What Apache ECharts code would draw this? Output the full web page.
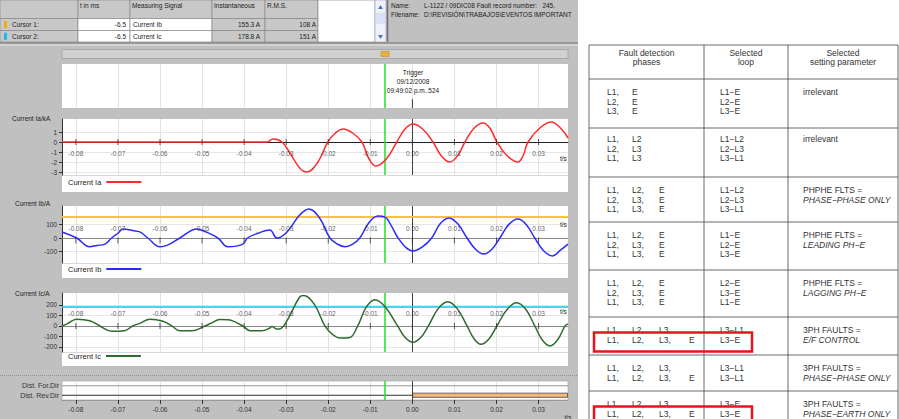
<!DOCTYPE html>
<html><head><meta charset="utf-8">
<script src="https://cdn.jsdelivr.net/npm/echarts@6/dist/echarts.min.js"></script>
<style>html,body{margin:0;padding:0;background:#fff}#c{width:899px;height:419px}</style>
</head><body><div id="c"></div>
<script>
// ---------------- DATA ----------------
const timeTicks = [-0.08,-0.07,-0.06,-0.05,-0.04,-0.03,-0.02,-0.01,0,0.01,0.02,0.03];
const tMin = -0.0833, tMax = 0.037;
const cursorTime = -0.0065;
const triggerTime = 0;
const triggerLines = ['Trigger', '09/12/2008', '09:49:02 p.m..524'];
const iaTicks = [-3,-2,-1,0,1];
const ibTicks = [-100,0,100];
const icTicks = [-200,-100,0,100,200];
const cursor1Value = 155.3;   // Current Ib at cursor 1
const cursor2Value = 178.8;   // Current Ic at cursor 2

const iaPoints = [[-0.0833,0],[-0.0600,0],[-0.0400,0],[-0.0345,0],[-0.0332,0.3],[-0.0310,0],[-0.0291,-1.1],[-0.0268,-2.6],[-0.0251,-3.0],[-0.0226,-2.1],[-0.0201,0],[-0.0183,0.9],[-0.0165,1.3],[-0.0142,0.9],[-0.0120,0],[-0.0103,-1.7],[-0.0087,-2.4],[-0.0062,-1.7],[-0.0037,0],[-0.0018,1.27],[0.0001,1.8],[0.0025,1.27],[0.0049,0],[0.0069,-1.4],[0.0089,-2.0],[0.0107,-1.4],[0.0125,0],[0.0146,1.35],[0.0168,1.9],[0.0185,1.35],[0.0201,0],[0.0226,-1.4],[0.0251,-2.0],[0.0263,-1.4],[0.0275,0],[0.0303,1.4],[0.0330,2.0],[0.0352,1.4],[0.0370,0.4]];
const ibPoints = [[-0.0833,45],[-0.0798,0],[-0.0767,-65],[-0.0750,-55],[-0.0731,-45],[-0.0715,0],[-0.0700,35],[-0.0688,67],[-0.0665,55],[-0.0648,45],[-0.0629,0],[-0.0600,-65],[-0.0577,-45],[-0.0553,0],[-0.0512,67],[-0.0493,48],[-0.0462,0],[-0.0439,-65],[-0.0403,-45],[-0.0392,0],[-0.0367,35],[-0.0339,60],[-0.0322,0],[-0.0298,45],[-0.0268,170],[-0.0246,215],[-0.0221,150],[-0.0196,0],[-0.0178,-45],[-0.0160,-65],[-0.0142,-45],[-0.0125,0],[-0.0103,115],[-0.0082,163],[-0.0065,155],[-0.0050,90],[-0.0034,0],[-0.0016,-68],[0.0001,-96],[0.0023,-68],[0.0046,0],[0.0066,105],[0.0087,148],[0.0108,105],[0.0130,0],[0.0150,-83],[0.0170,-118],[0.0189,-83],[0.0208,0],[0.0229,99],[0.0251,140],[0.0271,99],[0.0291,0],[0.0312,-94],[0.0333,-133],[0.0352,-90],[0.0370,-45]];
const icPoints = [[-0.0833,0],[-0.0821,20],[-0.0798,65],[-0.0767,50],[-0.0743,0],[-0.0715,-50],[-0.0684,-45],[-0.0665,0],[-0.0648,25],[-0.0624,65],[-0.0593,45],[-0.0572,0],[-0.0553,-45],[-0.0524,-45],[-0.0493,0],[-0.0477,30],[-0.0458,62],[-0.0439,60],[-0.0403,0],[-0.0386,-45],[-0.0358,-45],[-0.0339,-20],[-0.0334,-5],[-0.0322,-30],[-0.0313,-25],[-0.0298,50],[-0.0268,276],[-0.0258,290],[-0.0233,205],[-0.0208,0],[-0.0190,-80],[-0.0172,-115],[-0.0149,-110],[-0.0130,0],[-0.0110,177],[-0.0089,250],[-0.0064,179],[-0.0035,0],[-0.0017,-110],[0.0001,-155],[0.0020,-110],[0.0038,0],[0.0061,163],[0.0084,230],[0.0107,163],[0.0130,0],[0.0147,-124],[0.0163,-175],[0.0182,-124],[0.0201,0],[0.0225,156],[0.0248,220],[0.0270,156],[0.0291,0],[0.0309,-134],[0.0327,-190],[0.0345,-134],[0.0363,0],[0.0370,20]];

const distSignals = ['Dist. Rev.Dir', 'Dist. For.Dir'];
const revDirPickupEnd = 0.037;

const cursorHeader = ['', 't in ms', 'Measuring Signal', 'Instantaneous', 'R.M.S.'];
const cursorRows = [
  ['Cursor 1:', '-6.5', 'Current Ib', '155.3 A', '108 A'],
  ['Cursor 2:', '-6.5', 'Current Ic', '178.8 A', '151 A']
];
const recordInfo = [['Name:', 'L-1122 / 09DIC08 Fault record number:   245.'], ['Filename:', 'D:\\REVISIÓN\\TRABAJOS\\EVENTOS IMPORTANT']];

const tableHeader = [['Fault detection','phases'],['Selected','loop'],['Selected','setting parameter']];
const tablePhases = [
  [['L1,','E'],['L2,','E'],['L3,','E']],
  [['L1,','L2'],['L2,','L3'],['L1,','L3']],
  [['L1,','L2,','E'],['L2,','L3,','E'],['L1,','L3,','E']],
  [['L1,','L2,','E'],['L2,','L3,','E'],['L1,','L3,','E']],
  [['L1,','L2,','E'],['L2,','L3,','E'],['L1,','L3,','E']],
  [['L1,','L2,','L3,'],['L1,','L2,','L3,','E']],
  [['L1,','L2,','L3,'],['L1,','L2,','L3,','E']],
  [['L1,','L2,','L3,'],['L1,','L2,','L3,','E']]
];
const tableLoops = [
  ['L1\u2212E','L2\u2212E','L3\u2212E'],
  ['L1\u2212L2','L2\u2212L3','L3\u2212L1'],
  ['L1\u2212L2','L2\u2212L3','L3\u2212L1'],
  ['L1\u2212E','L2\u2212E','L3\u2212E'],
  ['L2\u2212E','L3\u2212E','L1\u2212E'],
  ['L3\u2212L1','L3\u2212E'],
  ['L3\u2212L1','L3\u2212L1'],
  ['L3\u2212E','L3\u2212E']
];
const tableParams = [
  ['irrelevant'],['irrelevant'],
  ['PHPHE FLTS =','PHASE\u2212PHASE ONLY'],
  ['PHPHE FLTS =','LEADING PH\u2212E'],
  ['PHPHE FLTS =','LAGGING PH\u2212E'],
  ['3PH FAULTS =','E/F CONTROL'],
  ['3PH FAULTS =','PHASE\u2212PHASE ONLY'],
  ['3PH FAULTS =','PHASE\u2212EARTH ONLY']
];
const highlighted = [[5,1],[7,1]];

// ---------------- DRAWING ----------------
const FONT = '"Liberation Sans", Arial, sans-serif';
const G = [];
function rect(x,y,w,h,fill,stroke,lw,z){G.push({type:'rect',silent:true,z:z==null?-5:z,shape:{x,y,width:w,height:h},style:{fill:fill||'none',stroke:stroke||null,lineWidth:lw||0}});}
function line(x1,y1,x2,y2,stroke,lw,z,dash){G.push({type:'line',silent:true,z:z==null?-4:z,shape:{x1,y1,x2,y2},style:{stroke,lineWidth:lw||1,lineDash:dash||null}});}
function text(x,y,s,size,opts){opts=opts||{};G.push({type:'text',silent:true,z:20,x,y,style:{text:s,fill:opts.color||'#222',font:(opts.italic?'italic ':'')+size+'px '+FONT,align:opts.align||'left',verticalAlign:'middle'}});}
function poly(pts,fill){G.push({type:'polygon',silent:true,z:-3,shape:{points:pts},style:{fill}});}

// left gray background
rect(0,0,578,419,'#c0c0c0',null,0,-10);
// header table
const colX=[0,78,130,212,265,318];
const rowY=[0,18.5,30.5,42];
for(let c=0;c<5;c++){
  rect(colX[c],rowY[0],colX[c+1]-colX[c],rowY[1]-rowY[0],'#c8c8c8','#8a8a8a',0.7);
  if(cursorHeader[c]) text(colX[c]+2,5,cursorHeader[c],6.5);
}
cursorRows.forEach((r,i)=>{
  const y0=rowY[i+1], y1=rowY[i+2], cy=(y0+y1)/2;
  for(let c=0;c<5;c++){
    const fill=(c===1||c===2)?'#ffffff':'#c8c8c8';
    rect(colX[c],y0,colX[c+1]-colX[c],y1-y0,fill,'#8a8a8a',0.7);
  }
  rect(4,cy-3.5,3,7,i===0?'#f0b000':'#18b8f0',null,0,-2);
  text(12,cy,r[0],6.5);
  text(colX[2]-4,cy,r[1],6.5,{align:'right'});
  text(colX[2]+3,cy,r[2],6.5);
  text(colX[4]-5,cy,r[3],6.5,{align:'right'});
  text(colX[5]-2,cy,r[4],6.5,{align:'right'});
});
rect(318,0,57,42,'#ffffff','#8a8a8a',0.7);
rect(375,0,11,42,'#eef2f8','#a0a8b8',0.7);
poly([[378,9],[383,9],[380.5,5]],'#5070c0');
poly([[378,35],[383,35],[380.5,39]],'#5070c0');
rect(376,13,9,11,'#d8e2f4',null,0,-3);
line(387.5,0,387.5,42,'#707070',1.5);
recordInfo.forEach((r,i)=>{text(391,5+i*9,r[0],6.5);text(424,5+i*9,r[1],6.5);});
// separator & scroll track
line(0,43,578,43,'#8a8a8a',1.5);
line(0,45,578,45,'#e8e8e8',1);
rect(62,49.5,506,9,'#d0d0d0','#a0a0a0',0.8);
rect(381,51.5,8,5,'#f0b030','#b08020',0.5,-2);

// white panels
rect(62,64,506,44,'#ffffff');
rect(62,119,506,73,'#ffffff');
rect(62,206,506,72,'#ffffff');
rect(62,293,506,73,'#ffffff');
rect(62,381,506,19,'#ffffff','#a0a0a0',0.6);
line(62,175.5,568,175.5,'#d8d8d8',1);
line(62,263.5,568,263.5,'#d8d8d8',1);
line(62,352.5,568,352.5,'#d8d8d8',1);
line(0,375.5,578,375.5,'#909090',1,-4,[1,1]);

// panel labels
text(12,118,'Current Ia/kA',6.5);
text(15,203,'Current Ib/A',6.5);
text(15,293,'Current Ic/A',6.5);
text(560,158,'t/s',6.5);
text(560,224,'t/s',6.5);
text(560,311,'t/s',6.5);
text(568,417,'t/s',6.5,{align:'center'});
// trigger text
triggerLines.forEach((s,i)=>text(413,72+i*9,s,6.5,{align:'center'}));

// right table
const TX=[589,704,788,898];
const rowTops=[79,128,177,222,270,317,355,391];
const phaseTabs=[607,632,659,689];
rect(578,0,321,419,'#ffffff',null,0,-10);
[45].concat(rowTops).forEach(y=>line(TX[0],y,TX[3],y,'#444',0.8,-1));
TX.forEach(x=>line(x,45,x,419,'#444',0.8,-1));
const mids=[(TX[0]+TX[1])/2,(TX[1]+TX[2])/2,(TX[2]+TX[3])/2];
tableHeader.forEach((h,c)=>{h.forEach((s,i)=>text(mids[c],53+i*9,s,8.5,{align:'center',color:'#333'}));});
function lineY(r,i){return rowTops[r]+(r===1?11:13)+i*9.5;}
tablePhases.forEach((lines,r)=>{
  lines.forEach((toks,i)=>{
    const y=lineY(r,i);
    toks.forEach((t,k)=>text(phaseTabs[k],y,t,8.5,{color:'#333'}));
    text(720,y,tableLoops[r][i],8.5,{color:'#333'});
  });
  tableParams[r].forEach((s,i)=>text(803,lineY(r,i),s,8.5,{color:'#333',italic:i===1}));
});
highlighted.forEach(([r,i])=>{
  const y=lineY(r,i);
  G.push({type:'rect',silent:true,z:25,shape:{x:594,y:y-7,width:158,height:19},style:{fill:'none',stroke:'#e8141c',lineWidth:2.5}});
});

// ---------------- ECHARTS OPTION ----------------
const grids=[
  {left:62,width:506,top:64,height:44},
  {left:62,width:506,top:119,height:56},
  {left:62,width:506,top:206,height:57},
  {left:62,width:506,top:293,height:59},
  {left:62,width:506,top:381,height:19}
].map(g=>Object.assign(g,{containLabel:false,outerBoundsMode:'none'}));

const lbl={fontSize:6.5,color:'#333',fontFamily:FONT};
function xAx(gi,o){
  return {
    type:'value',gridIndex:gi,min:tMin,max:tMax,
    axisLine:{show:o.line!==false,onZero:o.onZero!==false,lineStyle:{color:o.lineColor||'#333',width:1}},
    axisTick:{show:!!o.tick,customValues:timeTicks,length:4,lineStyle:{color:'#333'}},
    axisLabel:Object.assign({show:!!o.label,customValues:timeTicks,formatter:v=>v.toFixed(2),margin:o.margin||6},lbl),
    splitLine:{show:true,lineStyle:{color:'#e2e2e2',width:1}}
  };
}
function yAx(gi,min,max,ticks){
  return {
    type:'value',gridIndex:gi,min,max,
    axisLine:{show:true,onZero:false,lineStyle:{color:'#333'}},
    axisTick:{show:true,customValues:ticks,length:3,lineStyle:{color:'#333'}},
    axisLabel:Object.assign({customValues:ticks,margin:5},lbl),
    splitLine:{show:true,lineStyle:{color:'#e6e6e6'}}
  };
}
const greenCursor={xAxis:cursorTime,lineStyle:{color:'#22e022',width:1.5,type:'solid'}};
const zeroLine={xAxis:0,lineStyle:{color:'#404040',width:1,type:'solid'}};
function mk(data){return {symbol:'none',silent:true,precision:8,label:{show:false},animation:false,data};}

function wave(name,gi,data,color,extra){
  return {
    name,type:'line',xAxisIndex:gi,yAxisIndex:gi,data,smooth:0.4,symbol:'none',
    lineStyle:{color,width:1.5},itemStyle:{color},z:5,
    markLine:mk([zeroLine,greenCursor].concat(extra||[]))
  };
}
// tick marks and tick labels sitting on the zero line of each wave panel
function zeroAxisMarks(gi,tickOffset,labelOffset){
  const pts=timeTicks.map(t=>[t,0]);
  return [
    {type:'scatter',xAxisIndex:gi,yAxisIndex:gi,data:pts,symbol:'rect',symbolSize:[1,6],symbolOffset:[0,tickOffset],
     itemStyle:{color:'#333'},silent:true,z:6},
    {type:'scatter',xAxisIndex:gi,yAxisIndex:gi,data:pts,symbolSize:0.01,silent:true,z:6,
     label:Object.assign({show:true,position:'inside',offset:[0,labelOffset],formatter:p=>p.value[0].toFixed(2)},lbl)}
  ];
}

const option={
  animation:false,
  backgroundColor:'#ffffff',
  graphic:{elements:G},
  grid:grids,
  xAxis:[
    xAx(0,{line:false}),
    xAx(1,{lineColor:'#222'}),
    xAx(2,{lineColor:'#888'}),
    xAx(3,{lineColor:'#888'}),
    Object.assign(xAx(4,{onZero:false,lineColor:'#999',label:true,tick:true,margin:6}),{position:'bottom'})
  ],
  yAxis:[
    {type:'value',gridIndex:0,min:0,max:1,show:false},
    yAx(1,-3.3,2.3,iaTicks),
    yAx(2,-185,237,ibTicks),
    yAx(3,-248,314,icTicks),
    {type:'category',gridIndex:4,data:distSignals,axisLine:{show:false},axisTick:{show:false},
     axisLabel:Object.assign({margin:3},lbl,{fontSize:7}),splitLine:{show:false}}
  ],
  legend:[
    {data:['Current Ia'],left:68,top:178},
    {data:['Current Ib'],left:68,top:265},
    {data:['Current Ic'],left:68,top:352}
  ].map(l=>Object.assign(l,{icon:'rect',itemWidth:35,itemHeight:2,align:'right',padding:0,selectedMode:false,textStyle:{fontSize:7.5,color:'#222',fontFamily:FONT}})),
  series:[
    {type:'line',xAxisIndex:0,yAxisIndex:0,data:[[triggerTime,0],[triggerTime,0.2]],symbol:'none',lineStyle:{color:'#333',width:1},
     markLine:mk([greenCursor])},
    wave('Current Ia',1,iaPoints,'#ff2a2a'),
    wave('Current Ib',2,ibPoints,'#2a2aff',[{yAxis:cursor1Value,lineStyle:{color:'#f5c43c',width:2,type:'solid'}}]),
    wave('Current Ic',3,icPoints,'#2f6b2f',[{yAxis:cursor2Value,lineStyle:{color:'#18c0f0',width:1.5,type:'solid'}}]),
    ...zeroAxisMarks(1,0,11),
    ...zeroAxisMarks(2,2.5,-10),
    ...zeroAxisMarks(3,0,-12),
    {type:'line',xAxisIndex:4,yAxisIndex:4,data:[[tMin,distSignals[1]],[tMax,distSignals[1]]],symbol:'none',lineStyle:{color:'#999',width:1}},
    {type:'line',xAxisIndex:4,yAxisIndex:4,data:[[tMin,distSignals[0]],[tMax,distSignals[0]]],symbol:'none',lineStyle:{color:'#333',width:1},
     markLine:mk([zeroLine,greenCursor])},
    {type:'bar',xAxisIndex:4,yAxisIndex:4,data:[[revDirPickupEnd,distSignals[0]]],barWidth:5,
     itemStyle:{color:'#f5b878',borderColor:'#444',borderWidth:0.8},z:4}
  ]
};
const chart=echarts.init(document.getElementById('c'),null,{renderer:'svg'});
chart.setOption(option);
</script></body></html>
